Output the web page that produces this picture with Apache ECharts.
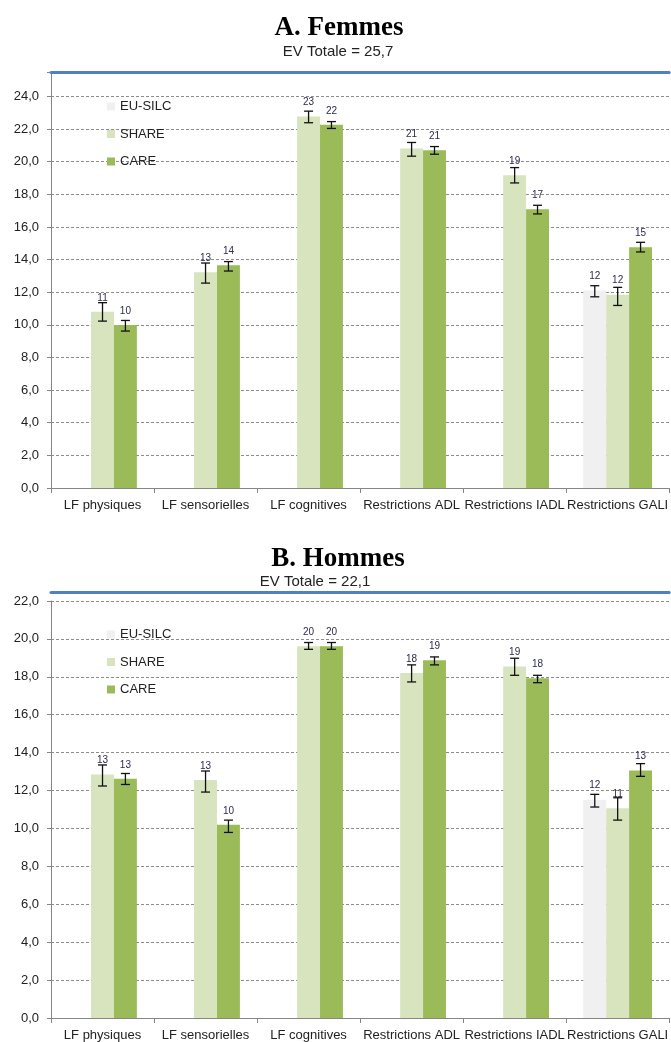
<!DOCTYPE html>
<html>
<head>
<meta charset="utf-8">
<script src="https://cdn.jsdelivr.net/npm/echarts@6/dist/echarts.min.js"></script>
<style>
html,body{margin:0;padding:0;background:#fff;}
#chart{width:671px;height:1042px;}
</style>
</head>
<body>
<div id="chart"></div>
<script>
// ---- Data ----
const categories = ['LF physiques', 'LF sensorielles', 'LF cognitives', 'Restrictions ADL', 'Restrictions IADL', 'Restrictions GALI'];
const seriesNames = ['EU-SILC', 'SHARE', 'CARE'];

// A. Femmes (EV Totale = 25,7)
const femmesTitle = 'A. Femmes';
const femmesSub = 'EV Totale = 25,7';
const femmesEU = [null, null, null, null, null, 12.11];
const femmesSHARE = [10.80, 13.22, 22.77, 20.81, 19.17, 11.85];
const femmesCARE = [9.99, 13.65, 22.26, 20.71, 17.09, 14.75];
const femmesEUErr = [null, null, null, null, null, [11.72, 12.40]];
const femmesSHAREErr = [[10.23, 11.36], [12.56, 13.79], [22.39, 23.10], [20.34, 21.18], [18.70, 19.64], [11.19, 12.30]];
const femmesCAREErr = [[9.62, 10.27], [13.30, 13.88], [22.04, 22.46], [20.46, 20.93], [16.80, 17.33], [14.47, 15.06]];
const femmesYMax = 25.5;

// B. Hommes (EV Totale = 22,1)
const hommesTitle = 'B. Hommes';
const hommesSub = 'EV Totale = 22,1';
const hommesEU = [null, null, null, null, null, 11.52];
const hommesSHARE = [12.85, 12.55, 19.61, 18.20, 18.55, 11.06];
const hommesCARE = [12.62, 10.19, 19.61, 18.87, 17.92, 13.06];
const hommesEUErr = [null, null, null, null, null, [11.13, 11.80]];
const hommesSHAREErr = [[12.24, 13.35], [11.92, 13.03], [19.45, 19.81], [17.73, 18.63], [18.08, 18.98], [10.44, 11.62]];
const hommesCAREErr = [[12.32, 12.90], [9.79, 10.44], [19.45, 19.81], [18.63, 19.05], [17.69, 18.08], [12.75, 13.42]];
const hommesYMax = 22;

const yInterval = 2;

// ---- Styles ----
const FONT = '"Liberation Sans", Arial, sans-serif';
const colors = { 'EU-SILC': '#f0f0f0', 'SHARE': '#d7e4bd', 'CARE': '#9bbb59' };
const axisGrey = '#868686';
const textCol = '#222';
const GAP = 1 / 3;

function barSeries(name, values, xi, yi) {
  return {
    type: 'bar', name: name, xAxisIndex: xi, yAxisIndex: yi,
    data: values, barGap: '0%', barCategoryGap: '33.3%',
    itemStyle: { color: colors[name] },
    label: {
      show: true, position: 'top', distance: 9,
      fontSize: 10, fontFamily: FONT, color: '#2b2b4b',
      formatter: p => (p.value == null ? '' : String(Math.round(p.value)))
    },
    z: 2
  };
}

function errSeries(name, errs, slot, xi, yi) {
  const data = [];
  errs.forEach((e, i) => { if (e) data.push([i, e[0], e[1]]); });
  return {
    type: 'custom', name: name + ' IC', xAxisIndex: xi, yAxisIndex: yi,
    silent: true, z: 5,
    encode: { x: 0, y: [1, 2] },
    data: data,
    renderItem: function (params, api) {
      const i = api.value(0);
      const lo = api.coord([i, api.value(1)]);
      const hi = api.coord([i, api.value(2)]);
      const band = api.size([1, 0])[0];
      const bw = band * (1 - GAP) / 3;
      const x = lo[0] + (slot - 1) * bw;
      const cap = 4.5;
      const st = { stroke: '#111', lineWidth: 1.3 };
      return {
        type: 'group',
        children: [
          { type: 'line', shape: { x1: x, y1: hi[1], x2: x, y2: lo[1] }, style: st },
          { type: 'line', shape: { x1: x - cap, y1: hi[1], x2: x + cap, y2: hi[1] }, style: st },
          { type: 'line', shape: { x1: x - cap, y1: lo[1], x2: x + cap, y2: lo[1] }, style: st }
        ]
      };
    }
  };
}

function yAxis(gi, max) {
  return {
    type: 'value', gridIndex: gi, min: 0, max: max, interval: yInterval,
    axisLine: { show: true, lineStyle: { color: axisGrey, width: 1 } },
    axisTick: { show: true, length: 4, lineStyle: { color: axisGrey } },
    splitLine: { show: true, lineStyle: { color: '#8c8c8c', type: [3, 2], width: 1 } },
    axisLabel: {
      fontSize: 13, fontFamily: FONT, color: textCol, margin: 12,
      formatter: v => (Math.abs(v % yInterval) < 1e-9 ? v.toFixed(1).replace('.', ',') : '')
    }
  };
}

function xAxisBottom(gi) {
  return {
    type: 'category', gridIndex: gi, data: categories, position: 'bottom',
    axisLine: { show: true, lineStyle: { color: axisGrey, width: 1 } },
    axisTick: { show: true, length: 5, interval: 0, lineStyle: { color: axisGrey } },
    axisLabel: { interval: 0, fontSize: 13, fontFamily: FONT, color: textCol, margin: 11 },
    splitLine: { show: false }
  };
}

function xAxisTop(gi, offset) {
  return {
    type: 'category', gridIndex: gi, data: categories, position: 'top', offset: offset,
    axisLine: { show: true, lineStyle: { color: '#4f81bd', width: 3 } },
    axisTick: { show: false }, axisLabel: { show: false }, splitLine: { show: false }
  };
}

function legend(top) {
  return {
    data: seriesNames, orient: 'vertical', left: 102, top: top,
    icon: 'rect', itemWidth: 8, itemHeight: 8, itemGap: 14.5,
    textStyle: { fontSize: 13, fontFamily: FONT, color: textCol },
    selectedMode: false
  };
}

const titleFont = 'bold 27px "Liberation Serif", "Times New Roman", serif';
const subFont = '15px ' + FONT;

const option = {
  animation: false,
  backgroundColor: '#fff',
  grid: [
    { left: 51, top: 72, width: 621, height: 416 },
    { left: 51, top: 601, width: 621, height: 417 }
  ],
  xAxis: [xAxisBottom(0), xAxisTop(0, 0), xAxisBottom(1), xAxisTop(1, 9)],
  yAxis: [yAxis(0, femmesYMax), yAxis(1, hommesYMax)],
  legend: [legend(95), legend(623)],
  graphic: [
    { type: 'text', x: 339, y: 28.5, style: { text: femmesTitle, font: titleFont, fill: '#000', align: 'center', verticalAlign: 'middle', textAlign: 'center', textVerticalAlign: 'middle' } },
    { type: 'text', x: 338, y: 51.5, style: { text: femmesSub, font: subFont, fill: textCol, align: 'center', verticalAlign: 'middle', textAlign: 'center', textVerticalAlign: 'middle' } },
    { type: 'text', x: 338, y: 559, style: { text: hommesTitle, font: titleFont, fill: '#000', align: 'center', verticalAlign: 'middle', textAlign: 'center', textVerticalAlign: 'middle' } },
    { type: 'text', x: 315, y: 581.5, style: { text: hommesSub, font: subFont, fill: textCol, align: 'center', verticalAlign: 'middle', textAlign: 'center', textVerticalAlign: 'middle' } }
  ],
  series: [
    barSeries('EU-SILC', femmesEU, 0, 0),
    barSeries('SHARE', femmesSHARE, 0, 0),
    barSeries('CARE', femmesCARE, 0, 0),
    errSeries('EU-SILC', femmesEUErr, 0, 0, 0),
    errSeries('SHARE', femmesSHAREErr, 1, 0, 0),
    errSeries('CARE', femmesCAREErr, 2, 0, 0),
    barSeries('EU-SILC', hommesEU, 2, 1),
    barSeries('SHARE', hommesSHARE, 2, 1),
    barSeries('CARE', hommesCARE, 2, 1),
    errSeries('EU-SILC', hommesEUErr, 0, 2, 1),
    errSeries('SHARE', hommesSHAREErr, 1, 2, 1),
    errSeries('CARE', hommesCAREErr, 2, 2, 1)
  ]
};

const chart = echarts.init(document.getElementById('chart'), null, { renderer: 'canvas' });
chart.setOption(option);
</script>
</body>
</html>
